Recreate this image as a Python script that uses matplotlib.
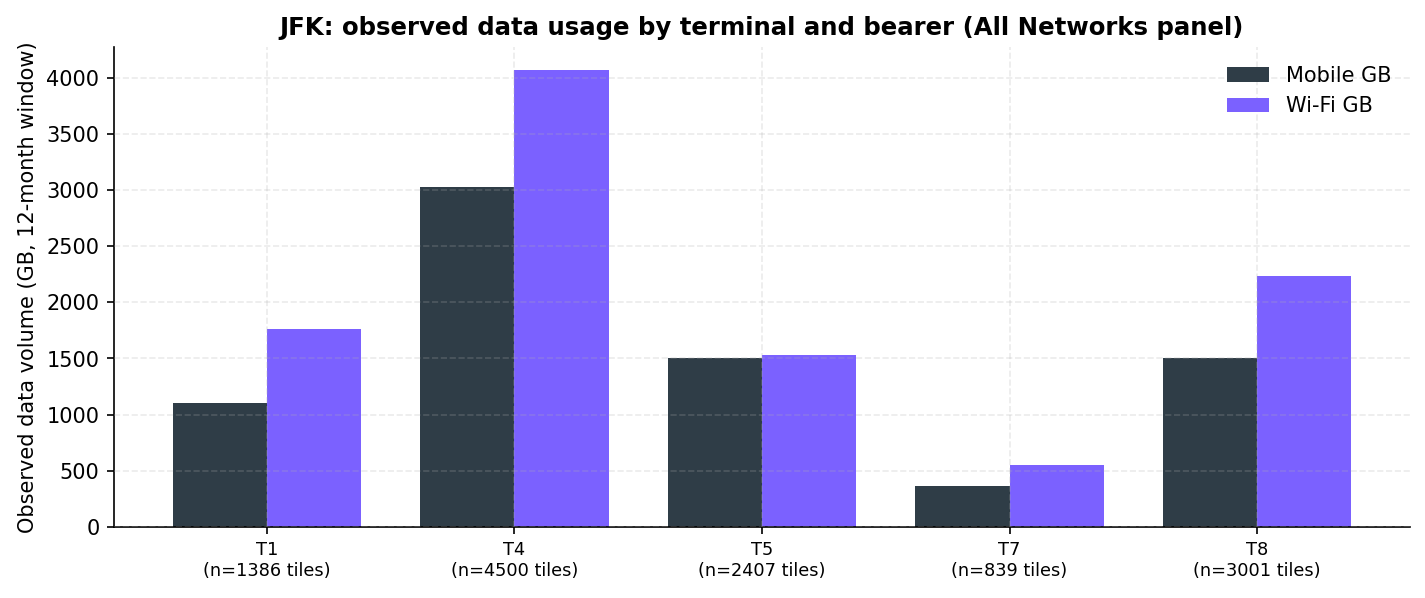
import numpy as np
import matplotlib
matplotlib.use("Agg")
import matplotlib.pyplot as plt

# Données (GB, fenêtre de 12 mois)
terminals = ["T1", "T4", "T5", "T7", "T8"]
tiles = [1386, 4500, 2407, 839, 3001]
mobile_gb = [1100, 3025, 1500, 366, 1500]
wifi_gb = [1760, 4070, 1527, 554, 2232]

x = np.arange(len(terminals))
w = 0.38

fig, ax = plt.subplots(figsize=(9.5, 3.987), dpi=150)

ax.bar(x - w / 2, mobile_gb, width=w, color="#2f3d47", label="Mobile GB")
ax.bar(x + w / 2, wifi_gb, width=w, color="#7b61ff", label="Wi-Fi GB")

ax.set_xticks(x)
ax.set_xticklabels([f"{t}\n(n={n} tiles)" for t, n in zip(terminals, tiles)],
                   fontsize=8.5)
ax.tick_params(axis="y", labelsize=10)
ax.set_ylabel("Observed data volume (GB, 12-month window)", fontsize=10)
ax.set_title("JFK: observed data usage by terminal and bearer (All Networks panel)",
             fontsize=11.7, fontweight="bold")

ax.grid(True, linestyle="--", alpha=0.25, color="#b0b0b0")
ax.set_axisbelow(False)
ax.spines["top"].set_visible(False)
ax.spines["right"].set_visible(False)
ax.legend(frameon=False, loc="upper right", fontsize=10)

fig.subplots_adjust(left=0.08, right=0.9895, bottom=0.119, top=0.921)
plt.savefig("out.png", dpi=150)
plt.close()
